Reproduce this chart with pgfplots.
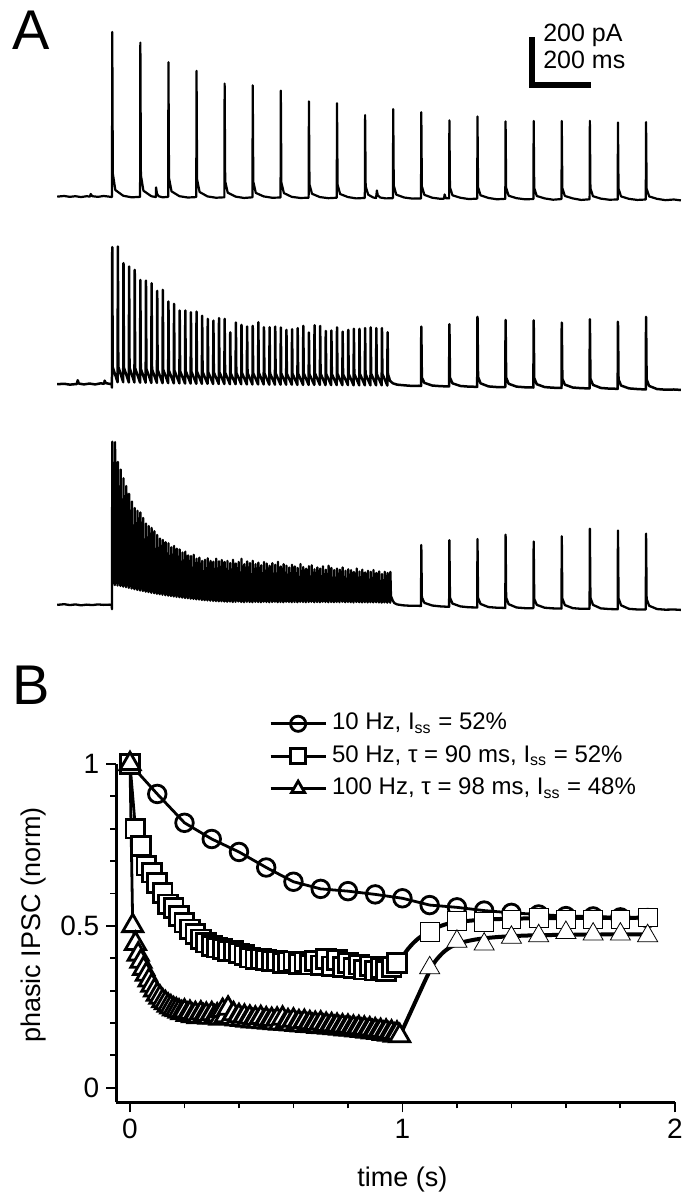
\documentclass[border=0pt]{standalone}
\usepackage{fontspec}
\setmainfont{Liberation Sans}
\usepackage{pgfplots}
\pgfplotsset{compat=1.18}

\pgfplotsset{
  trace/.style={
    at={(27.9pt,#1)}, anchor=south west,
    scale only axis, hide axis, clip=false,
    x=0.1405pt, y=0.11pt,
    xmin=-200, xmax=2040, ymin=-60, ymax=800,
  },
}

\begin{document}
\begin{tikzpicture}
\path (0,0) rectangle (345.5pt,599.5pt);

\node[anchor=base west, inner sep=0pt, font=\fontsize{28}{30}\selectfont] at (6pt,574.5pt) {A};
\node[anchor=base west, inner sep=0pt, font=\fontsize{28}{30}\selectfont] at (6pt,247pt) {B};

% ---- A: 10 Hz train ----
\begin{axis}[trace=494.55pt]
\addplot[black, line width=1.1pt, line join=round] table[row sep=\\] {
t y \\
-195 0 \\ -170 3 \\ -150 -1 \\ -130 2 \\ -110 -2 \\ -90 2 \\ -78 0 \\ -76 12 \\ -70 2 \\ -50 -1 \\ -30 3 \\ -10 0 \\ -1 -2 \\
0 0 \\ 1 749 \\ 3 105 \\ 12 30 \\ 40 4 \\ 70 -3 \\
100 -1 \\ 101 700 \\ 103 97 \\ 112 27 \\ 140 2 \\ 156 -2 \\ 157 42 \\ 160 14 \\ 166 2 \\ 180 -3 \\
200 -1 \\ 201 611 \\ 203 85 \\ 212 24 \\ 240 2 \\ 270 -4 \\
300 -2 \\ 301 572 \\ 303 78 \\ 312 21 \\ 340 1 \\ 370 -5 \\
400 -3 \\ 401 514 \\ 403 70 \\ 412 18 \\ 440 0 \\ 470 -6 \\
500 -3 \\ 501 506 \\ 503 68 \\ 512 17 \\ 540 1 \\ 570 -5 \\
600 -4 \\ 601 482 \\ 603 64 \\ 612 16 \\ 640 -1 \\ 670 -6 \\
700 -5 \\ 701 433 \\ 703 56 \\ 712 13 \\ 740 -2 \\ 770 -7 \\
800 -5 \\ 801 425 \\ 803 55 \\ 812 12 \\ 840 -2 \\ 870 -8 \\
900 -6 \\ 901 371 \\ 903 47 \\ 912 9 \\ 930 -4 \\ 940 -6 \\ 943 28 \\ 946 6 \\ 955 -4 \\ 975 -8 \\
1000 -7 \\ 1001 398 \\ 1003 50 \\ 1012 9 \\ 1040 -4 \\ 1070 -9 \\
1100 -8 \\ 1101 384 \\ 1103 47 \\ 1112 8 \\ 1140 -5 \\ 1170 -10 \\ 1182 -9 \\ 1184 10 \\ 1188 -7 \\
1200 -8 \\ 1201 347 \\ 1203 42 \\ 1212 6 \\ 1240 -5 \\ 1270 -11 \\
1300 -9 \\ 1301 364 \\ 1303 43 \\ 1312 6 \\ 1340 -6 \\ 1370 -12 \\
1400 -10 \\ 1401 342 \\ 1403 40 \\ 1412 4 \\ 1440 -7 \\ 1470 -12 \\
1500 -11 \\ 1501 344 \\ 1503 39 \\ 1512 3 \\ 1540 -8 \\ 1570 -14 \\
1600 -11 \\ 1601 344 \\ 1603 39 \\ 1612 3 \\ 1640 -8 \\ 1670 -15 \\
1700 -12 \\ 1701 345 \\ 1703 38 \\ 1712 2 \\ 1740 -9 \\ 1770 -14 \\
1800 -13 \\ 1801 337 \\ 1803 36 \\ 1812 1 \\ 1840 -10 \\ 1870 -15 \\
1900 -13 \\ 1901 339 \\ 1903 36 \\ 1912 1 \\ 1940 -10 \\ 1970 -16 \\ 2000 -13 \\ 2025 -17 \\
};
% scale bar: 200 ms, 200 pA
\addplot[black, line width=2.6pt, line join=miter, line cap=rect] coordinates {(1495,712) (1495,508) (1695,508)};
\node[anchor=west, inner sep=0pt, font=\fontsize{12.5}{14}\selectfont] at (axis cs:1534,734) {200 pA};
\node[anchor=west, inner sep=0pt, font=\fontsize{12.5}{14}\selectfont] at (axis cs:1534,620) {200 ms};
\end{axis}

% ---- A: 50 Hz train ----
\begin{axis}[trace=400.75pt]
\addplot[black, line width=1.25pt, line join=round] table[row sep=\\] {
t y \\
-195 0 \\ -170 2 \\ -150 -2 \\ -125 1 \\ -122 18 \\ -118 3 \\ -100 -1 \\ -80 3 \\ -60 -1 \\ -40 4 \\ -28 2 \\ -26 16 \\ -22 5 \\ -10 2 \\ -1 0 \\
0 -15 \\ 1 623 \\ 2.5 78 \\ 20 9 \\ 21 626 \\ 22.5 80 \\ 40 9 \\ 41 550 \\ 42.5 76 \\ 60 8 \\ 61 535 \\ 62.5 75 \\
80 8 \\ 81 520 \\ 82.5 73 \\ 100 7 \\ 101 474 \\ 102.5 70 \\ 120 7 \\ 121 471 \\ 122.5 70 \\ 140 6 \\ 141 459 \\ 142.5 68 \\
160 6 \\ 161 424 \\ 162.5 66 \\ 180 5 \\ 181 429 \\ 182.5 66 \\ 200 5 \\ 201 376 \\ 202.5 63 \\ 220 4 \\ 221 365 \\ 222.5 62 \\
240 4 \\ 241 335 \\ 242.5 60 \\ 260 3 \\ 261 335 \\ 262.5 60 \\ 280 3 \\ 281 327 \\ 282.5 58 \\ 300 2 \\ 301 330 \\ 302.5 58 \\
320 2 \\ 321 311 \\ 322.5 56 \\ 340 2 \\ 341 297 \\ 342.5 55 \\ 360 1 \\ 361 289 \\ 362.5 54 \\ 380 1 \\ 381 300 \\ 382.5 55 \\
400 1 \\ 401 297 \\ 402.5 54 \\ 420 0 \\ 421 236 \\ 422.5 50 \\ 440 0 \\ 441 280 \\ 442.5 53 \\ 460 0 \\ 461 270 \\ 462.5 52 \\
480 -1 \\ 481 262 \\ 482.5 51 \\ 500 -1 \\ 501 265 \\ 502.5 51 \\ 520 -1 \\ 521 282 \\ 522.5 53 \\ 540 -1 \\ 541 259 \\ 542.5 50 \\
560 -2 \\ 561 259 \\ 562.5 50 \\ 580 -2 \\ 581 262 \\ 582.5 50 \\ 600 -2 \\ 601 258 \\ 602.5 49 \\ 620 -2 \\ 621 247 \\ 622.5 48 \\
640 -2 \\ 641 250 \\ 642.5 48 \\ 660 -3 \\ 661 255 \\ 662.5 49 \\ 680 -3 \\ 681 265 \\ 682.5 50 \\ 700 -3 \\ 701 235 \\ 702.5 47 \\
720 -3 \\ 721 268 \\ 722.5 50 \\ 740 -3 \\ 741 265 \\ 742.5 49 \\ 760 -4 \\ 761 242 \\ 762.5 47 \\ 780 -4 \\ 781 244 \\ 782.5 47 \\
800 -4 \\ 801 258 \\ 802.5 48 \\ 820 -4 \\ 821 239 \\ 822.5 46 \\ 840 -4 \\ 841 247 \\ 842.5 47 \\ 860 -5 \\ 861 252 \\ 862.5 47 \\
880 -5 \\ 881 252 \\ 882.5 47 \\ 900 -5 \\ 901 255 \\ 902.5 47 \\ 920 -5 \\ 921 258 \\ 922.5 48 \\ 940 -5 \\ 941 255 \\ 942.5 47 \\
960 -5 \\ 961 255 \\ 962.5 47 \\ 980 -6 \\ 981 236 \\ 982.5 45 \\
990 15 \\ 1000 4 \\ 1015 -2 \\ 1040 -5 \\ 1070 -8 \\ 1090 -7 \\
1100 -8 \\ 1101 262 \\ 1103 30 \\ 1112 6 \\ 1140 -6 \\ 1170 -9 \\
1200 -10 \\ 1201 273 \\ 1203 30 \\ 1212 4 \\ 1240 -8 \\ 1270 -11 \\
1300 -12 \\ 1301 306 \\ 1303 33 \\ 1312 4 \\ 1340 -10 \\ 1370 -13 \\
1400 -13 \\ 1401 292 \\ 1403 30 \\ 1412 2 \\ 1440 -11 \\ 1470 -14 \\
1500 -15 \\ 1501 290 \\ 1503 28 \\ 1512 0 \\ 1540 -13 \\ 1570 -16 \\
1600 -17 \\ 1601 280 \\ 1603 25 \\ 1612 -2 \\ 1640 -15 \\ 1670 -18 \\
1700 -19 \\ 1701 295 \\ 1703 25 \\ 1712 -3 \\ 1740 -17 \\ 1770 -20 \\
1800 -21 \\ 1801 284 \\ 1803 22 \\ 1812 -6 \\ 1840 -19 \\ 1870 -22 \\
1900 -24 \\ 1901 306 \\ 1903 22 \\ 1912 -8 \\ 1940 -22 \\ 1970 -25 \\ 2000 -24 \\ 2025 -26 \\
};
\end{axis}

% ---- A: 100 Hz train ----
\begin{axis}[trace=290.4pt]
\addplot[black, line width=1.15pt, line join=round] table[row sep=\\] {
t y \\
-195 0 \\ -170 3 \\ -150 -1 \\ -130 2 \\ -110 -2 \\ -90 1 \\ -70 -1 \\ -50 2 \\ -30 0 \\ -10 1 \\ -1 0 \\
0 -20 \\ 1 742 \\ 3 170 \\ 10 90 \\ 11 740 \\ 13 168 \\ 20 88 \\ 21 650 \\ 23 164 \\ 30 86 \\ 31 615 \\ 33 160 \\
40 83 \\ 41 575 \\ 43 156 \\ 50 80 \\ 51 540 \\ 53 150 \\ 60 77 \\ 61 505 \\ 63 143 \\ 70 74 \\ 71 470 \\ 73 136 \\
80 71 \\ 81 440 \\ 83 130 \\ 90 68 \\ 91 428 \\ 93 125 \\ 100 65 \\ 101 420 \\ 103 120 \\ 110 63 \\ 111 395 \\ 113 116 \\
120 60 \\ 121 370 \\ 123 112 \\ 130 58 \\ 131 358 \\ 133 108 \\ 140 55 \\ 141 350 \\ 143 104 \\ 150 53 \\ 151 335 \\ 153 100 \\
160 50 \\ 161 318 \\ 163 97 \\ 170 48 \\ 171 302 \\ 173 94 \\ 180 46 \\ 181 295 \\ 183 90 \\ 190 44 \\ 191 285 \\ 193 87 \\
200 42 \\ 201 280 \\ 203 84 \\ 210 40 \\ 211 262 \\ 213 82 \\ 220 38 \\ 221 268 \\ 223 80 \\ 230 36 \\ 231 256 \\ 233 77 \\
240 35 \\ 241 252 \\ 243 75 \\ 250 33 \\ 251 238 \\ 253 72 \\ 260 31 \\ 261 242 \\ 263 70 \\ 270 30 \\ 271 225 \\ 273 68 \\
280 28 \\ 281 222 \\ 283 66 \\ 290 27 \\ 291 228 \\ 293 64 \\ 300 25 \\ 301 210 \\ 303 62 \\ 310 24 \\ 311 215 \\ 313 60 \\
320 22 \\ 321 200 \\ 323 58 \\ 330 21 \\ 331 205 \\ 333 56 \\ 340 20 \\ 341 212 \\ 343 55 \\ 350 19 \\ 351 200 \\ 353 54 \\
360 18 \\ 361 196 \\ 363 52 \\ 370 17 \\ 371 210 \\ 373 51 \\ 380 16 \\ 381 198 \\ 383 50 \\ 390 16 \\ 391 204 \\ 393 49 \\
400 15 \\ 401 195 \\ 403 48 \\ 410 14 \\ 411 200 \\ 413 47 \\ 420 15 \\ 421 190 \\ 423 47 \\ 430 13 \\ 431 205 \\ 433 46 \\
440 14 \\ 441 188 \\ 443 46 \\ 450 15 \\ 451 195 \\ 453 47 \\ 460 13 \\ 461 210 \\ 463 46 \\ 470 12 \\ 471 185 \\ 473 45 \\
480 14 \\ 481 198 \\ 483 46 \\ 490 13 \\ 491 190 \\ 493 45 \\ 500 12 \\ 501 200 \\ 503 45 \\ 510 14 \\ 511 185 \\ 513 46 \\
520 13 \\ 521 192 \\ 523 45 \\ 530 12 \\ 531 180 \\ 533 44 \\ 540 14 \\ 541 195 \\ 543 45 \\ 550 13 \\ 551 188 \\ 553 45 \\
560 12 \\ 561 178 \\ 563 44 \\ 570 13 \\ 571 190 \\ 573 45 \\ 580 14 \\ 581 182 \\ 583 45 \\ 590 12 \\ 591 196 \\ 593 44 \\
600 13 \\ 601 175 \\ 603 44 \\ 610 12 \\ 611 185 \\ 613 44 \\ 620 14 \\ 621 178 \\ 623 45 \\ 630 13 \\ 631 170 \\ 633 44 \\
640 12 \\ 641 182 \\ 643 43 \\ 650 13 \\ 651 175 \\ 653 44 \\ 660 12 \\ 661 168 \\ 663 43 \\ 670 14 \\ 671 186 \\ 673 45 \\
680 13 \\ 681 172 \\ 683 44 \\ 690 12 \\ 691 165 \\ 693 43 \\ 700 13 \\ 701 176 \\ 703 44 \\ 710 14 \\ 711 180 \\ 713 45 \\
720 12 \\ 721 162 \\ 723 43 \\ 730 13 \\ 731 170 \\ 733 43 \\ 740 12 \\ 741 165 \\ 743 43 \\ 750 14 \\ 751 175 \\ 753 44 \\
760 13 \\ 761 160 \\ 763 43 \\ 770 12 \\ 771 178 \\ 773 43 \\ 780 13 \\ 781 168 \\ 783 43 \\ 790 12 \\ 791 158 \\ 793 42 \\
800 13 \\ 801 165 \\ 803 43 \\ 810 12 \\ 811 160 \\ 813 42 \\ 820 14 \\ 821 170 \\ 823 43 \\ 830 12 \\ 831 155 \\ 833 42 \\
840 13 \\ 841 162 \\ 843 42 \\ 850 12 \\ 851 158 \\ 853 42 \\ 860 11 \\ 861 150 \\ 863 41 \\ 870 13 \\ 871 165 \\ 873 42 \\
880 12 \\ 881 152 \\ 883 41 \\ 890 11 \\ 891 160 \\ 893 41 \\ 900 12 \\ 901 148 \\ 903 41 \\ 910 11 \\ 911 155 \\ 913 41 \\
920 12 \\ 921 150 \\ 923 41 \\ 930 11 \\ 931 158 \\ 933 41 \\ 940 12 \\ 941 145 \\ 943 40 \\ 950 11 \\ 951 152 \\ 953 40 \\
960 10 \\ 961 140 \\ 963 40 \\ 970 11 \\ 971 150 \\ 973 40 \\ 980 10 \\ 981 145 \\ 983 40 \\ 990 10 \\ 991 150 \\ 993 40 \\
1000 18 \\ 1005 8 \\ 1015 2 \\ 1035 -2 \\ 1060 -4 \\ 1085 -4 \\
1100 -5 \\ 1101 272 \\ 1103 34 \\ 1112 9 \\ 1140 -3 \\ 1170 -7 \\
1200 -9 \\ 1201 294 \\ 1203 33 \\ 1212 6 \\ 1240 -7 \\ 1270 -11 \\
1300 -12 \\ 1301 299 \\ 1303 32 \\ 1312 4 \\ 1340 -10 \\ 1370 -13 \\
1400 -14 \\ 1401 319 \\ 1403 33 \\ 1412 3 \\ 1440 -12 \\ 1470 -15 \\
1500 -15 \\ 1501 288 \\ 1503 27 \\ 1512 0 \\ 1540 -13 \\ 1570 -16 \\
1600 -17 \\ 1601 312 \\ 1603 29 \\ 1612 -1 \\ 1640 -15 \\ 1670 -18 \\
1700 -18 \\ 1701 346 \\ 1703 33 \\ 1712 0 \\ 1740 -16 \\ 1770 -19 \\
1800 -20 \\ 1801 338 \\ 1803 30 \\ 1812 -2 \\ 1840 -18 \\ 1870 -21 \\
1900 -21 \\ 1901 324 \\ 1903 27 \\ 1912 -4 \\ 1940 -19 \\ 1970 -22 \\ 2000 -21 \\ 2025 -23 \\
};
\end{axis}

% ---- B ----
\begin{axis}[
  at={(58.2pt,48.2pt)}, anchor=south west,
  scale only axis, width=279.3pt, height=169.3pt,
  xmin=-0.05, xmax=2, ymin=-0.045, ymax=1,
  axis x line*=bottom, axis y line*=left,
  axis line style={line width=1.3pt, -},
  xtick={0,1,2}, ytick={0,0.5,1},
  minor x tick num=4, minor y tick num=4,
  tick align=outside,
  major tick length=5pt, minor tick length=3pt,
  every tick/.style={black, line width=0.9pt},
  tick label style={font=\fontsize{14}{16}\selectfont},
  /pgf/number format/assume math mode=true,
  clip=false,
  xlabel={time (s)}, ylabel={phasic IPSC (norm)},
  label style={font=\fontsize{13.5}{16}\selectfont},
  xlabel style={at={(axis description cs:0.512,-0.2286)}, anchor=center},
  ylabel style={at={(axis description cs:-0.149,0.5245)}, anchor=center},
  legend cell align=left,
  legend style={at={(axis description cs:0.273,1.155)}, anchor=north west,
    draw=none, fill=none, inner sep=0pt,
    font=\fontsize{12}{14}\selectfont, row sep=4.25pt,
    nodes={inner sep=0pt, text height=9pt, text depth=3pt},
    /tikz/every odd column/.append style={column sep=2.5pt}},
  legend image code/.code={\draw[mark repeat=2, mark phase=2, mark size=3.8pt]
    plot coordinates {(0pt,0pt) (13.75pt,0pt) (27.5pt,0pt)};},
  mark options={solid, fill=white, line width=1.15pt},
]
\addplot[black, line width=1.4pt, mark=o, mark size=4.4pt, mark options={fill=white}] coordinates {
(0,1.0) (0.1,0.907) (0.2,0.818) (0.3,0.768) (0.4,0.728) (0.5,0.680) (0.6,0.636) (0.7,0.614) (0.8,0.607) (0.9,0.597)
(1.0,0.585) (1.1,0.564) (1.2,0.557) (1.3,0.547) (1.4,0.540) (1.5,0.535) (1.6,0.530) (1.7,0.529) (1.8,0.526) (1.9,0.524)};
\addlegendentry{10 Hz, I\textsubscript{ss} = 52\%}

\addplot[black, line width=1.4pt, mark=square*, mark size=4.7pt, mark options={fill=white}] coordinates {
(0,1.0) (0.02,0.80) (0.04,0.746) (0.06,0.686) (0.08,0.664) (0.10,0.633) (0.12,0.602) (0.14,0.566) (0.16,0.555) (0.18,0.53)
(0.20,0.51) (0.22,0.489) (0.24,0.474) (0.26,0.458) (0.28,0.448) (0.30,0.438) (0.32,0.433) (0.34,0.428) (0.36,0.423) (0.38,0.423)
(0.40,0.415) (0.42,0.41) (0.44,0.402) (0.46,0.397) (0.48,0.397) (0.50,0.395) (0.52,0.39) (0.54,0.392) (0.56,0.385) (0.58,0.388)
(0.60,0.39) (0.62,0.383) (0.64,0.388) (0.66,0.38) (0.68,0.392) (0.70,0.378) (0.72,0.398) (0.74,0.375) (0.76,0.395) (0.78,0.372)
(0.80,0.385) (0.82,0.37) (0.84,0.38) (0.86,0.365) (0.88,0.375) (0.90,0.362) (0.92,0.37) (0.94,0.36) (0.96,0.372) (0.98,0.385)};
\addlegendentry{50 Hz, τ = 90 ms, I\textsubscript{ss} = 52\%}

\addplot[black, line width=1.4pt, mark=triangle*, mark size=5.8pt, mark options={fill=white}] coordinates {
(0.00,1.000) (0.01,0.500) (0.02,0.445) (0.03,0.412) (0.04,0.390) (0.05,0.368) (0.06,0.350) (0.07,0.332) (0.08,0.316) (0.09,0.301)
(0.10,0.288) (0.11,0.279) (0.12,0.268) (0.13,0.262) (0.14,0.254) (0.15,0.249) (0.16,0.243) (0.17,0.240) (0.18,0.236) (0.19,0.231)
(0.20,0.236) (0.21,0.226) (0.22,0.232) (0.23,0.222) (0.24,0.228) (0.25,0.219) (0.26,0.230) (0.27,0.221) (0.28,0.226) (0.29,0.217)
(0.30,0.228) (0.31,0.218) (0.32,0.224) (0.33,0.214) (0.34,0.238) (0.35,0.222) (0.36,0.245) (0.37,0.216) (0.38,0.228) (0.39,0.212)
(0.40,0.222) (0.41,0.210) (0.42,0.220) (0.43,0.208) (0.44,0.217) (0.45,0.206) (0.46,0.214) (0.47,0.205) (0.48,0.216) (0.49,0.203)
(0.50,0.212) (0.51,0.202) (0.52,0.210) (0.53,0.200) (0.54,0.211) (0.55,0.199) (0.56,0.214) (0.57,0.198) (0.58,0.206) (0.59,0.196)
(0.60,0.208) (0.61,0.195) (0.62,0.203) (0.63,0.193) (0.64,0.204) (0.65,0.192) (0.66,0.200) (0.67,0.191) (0.68,0.198) (0.69,0.189)
(0.70,0.199) (0.71,0.188) (0.72,0.195) (0.73,0.186) (0.74,0.194) (0.75,0.185) (0.76,0.192) (0.77,0.183) (0.78,0.190) (0.79,0.181)
(0.80,0.189) (0.81,0.180) (0.82,0.186) (0.83,0.178) (0.84,0.185) (0.85,0.176) (0.86,0.183) (0.87,0.174) (0.88,0.181) (0.89,0.172)
(0.90,0.178) (0.91,0.170) (0.92,0.176) (0.93,0.167) (0.94,0.174) (0.95,0.165) (0.96,0.171) (0.97,0.162) (0.98,0.168) (0.99,0.160)};
\addlegendentry{100 Hz, τ = 98 ms, I\textsubscript{ss} = 48\%}

% recovery points at 10 Hz after the trains
\addplot[black, only marks, mark=square*, mark size=4.7pt, mark options={fill=white}, forget plot] coordinates {
(1.1,0.48) (1.2,0.515) (1.3,0.512) (1.4,0.52) (1.5,0.525) (1.6,0.52) (1.7,0.52) (1.8,0.52) (1.9,0.526)};
\addplot[black, only marks, mark=triangle*, mark size=5.8pt, mark options={fill=white}, forget plot] coordinates {
(1.1,0.37) (1.2,0.452) (1.3,0.443) (1.4,0.464) (1.5,0.469) (1.6,0.479) (1.7,0.474) (1.8,0.474) (1.9,0.469)};

% recovery fits
\addplot[black, line width=2pt, smooth, forget plot] coordinates {
(0.98,0.385) (1.0,0.405) (1.02,0.428) (1.04,0.447) (1.06,0.462) (1.08,0.474) (1.10,0.484) (1.13,0.496) (1.16,0.505)
(1.2,0.511) (1.25,0.516) (1.3,0.519) (1.4,0.522) (1.6,0.524) (1.9,0.525)};
\addplot[black, line width=2pt, smooth, forget plot] coordinates {
(0.99,0.160) (1.02,0.215) (1.05,0.27) (1.08,0.325) (1.10,0.36) (1.12,0.39) (1.15,0.418) (1.18,0.436) (1.22,0.449)
(1.27,0.458) (1.33,0.464) (1.4,0.468) (1.5,0.471) (1.7,0.473) (1.9,0.474)};
\end{axis}
\end{tikzpicture}
\end{document}
